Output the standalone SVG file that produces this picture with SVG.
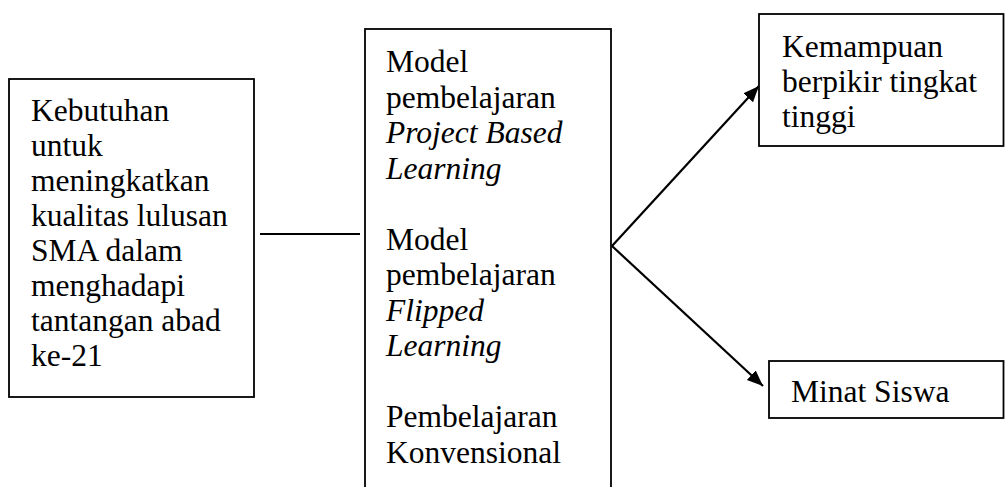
<svg xmlns="http://www.w3.org/2000/svg" width="1005" height="487" viewBox="0 0 1005 487">
<style>
.box{fill:#fff;stroke:#000;stroke-width:1.8}
.t{font-family:"Liberation Serif","Times New Roman",serif;font-size:31.5px;fill:#000}
.i{font-style:italic}
.c{stroke:#000;stroke-width:1.8;fill:none}
.a{stroke:#000;stroke-width:2.2;fill:none}
</style>
<defs>
<marker id="ah" markerUnits="userSpaceOnUse" markerWidth="18" markerHeight="14" refX="16" refY="6.5" orient="auto">
<path d="M0,0 L16,6.5 L0,13 z" fill="#000"/>
</marker>
</defs>
<rect width="1005" height="487" fill="#fff"/>
<g id="connectors">
<line class="c" x1="260" y1="234" x2="360" y2="234"/>
<line class="a" x1="612" y1="246" x2="759" y2="86" marker-end="url(#ah)"/>
<line class="a" x1="612" y1="246" x2="763" y2="386" marker-end="url(#ah)"/>
</g>
<g id="node-kebutuhan">
<rect class="box" x="9" y="79" width="245" height="318"/>
<g class="t">
<text x="31" y="121">Kebutuhan</text>
<text x="31" y="156">untuk</text>
<text x="31" y="191">meningkatkan</text>
<text x="31" y="226">kualitas lulusan</text>
<text x="31" y="261">SMA dalam</text>
<text x="31" y="296">menghadapi</text>
<text x="31" y="331">tantangan abad</text>
<text x="31" y="366">ke-21</text>
</g>
</g>
<g id="node-model">
<rect class="box" x="365" y="29" width="246" height="480"/>
<g class="t">
<text x="386" y="72">Model</text>
<text x="386" y="107.5">pembelajaran</text>
<text x="386" y="143" class="i">Project Based</text>
<text x="386" y="178.5" class="i">Learning</text>
<text x="386" y="249.5">Model</text>
<text x="386" y="285">pembelajaran</text>
<text x="386" y="320.5" class="i">Flipped</text>
<text x="386" y="356" class="i">Learning</text>
<text x="386" y="427">Pembelajaran</text>
<text x="386" y="462.5">Konvensional</text>
</g>
</g>
<g id="node-kemampuan">
<rect class="box" x="759" y="14" width="244.5" height="132"/>
<g class="t">
<text x="782" y="57">Kemampuan</text>
<text x="782" y="92">berpikir tingkat</text>
<text x="782" y="127">tinggi</text>
</g>
</g>
<g id="node-minat">
<rect class="box" x="769" y="361" width="234.5" height="57"/>
<g class="t">
<text x="791" y="402">Minat Siswa</text>
</g>
</g>
</svg>
